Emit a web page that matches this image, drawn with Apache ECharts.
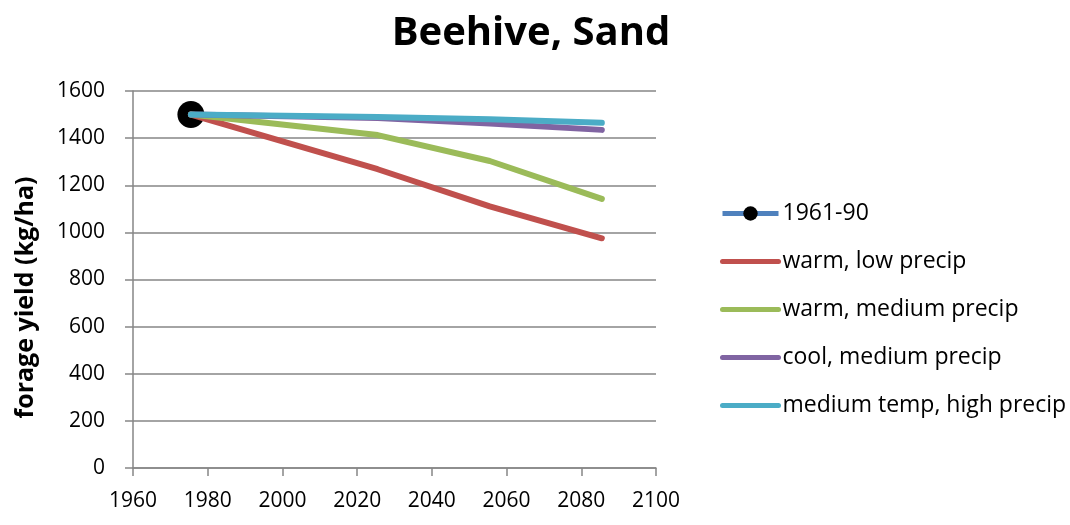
<!DOCTYPE html>
<html>
<head>
<meta charset="utf-8">
<script src="https://cdn.jsdelivr.net/npm/echarts@6/dist/echarts.min.js"></script>
<style>
  html, body { margin: 0; padding: 0; background: #fff; }
  #chart { width: 1070px; height: 525px; }
</style>
</head>
<body>
<div id="chart"></div>
<script>
// Period midpoints (years) and forage yield (kg/ha) per climate scenario
const years = [1975.5, 2025.5, 2055.5, 2085.5];
const baseline = [1500];
const warmLowPrecip = [1500, 1268, 1110, 975];
const warmMediumPrecip = [1500, 1413, 1303, 1142];
const coolMediumPrecip = [1500, 1485, 1462, 1435];
const mediumTempHighPrecip = [1500, 1490, 1480, 1465];
const seriesNames = ['1961-90', 'warm, low precip', 'warm, medium precip', 'cool, medium precip', 'medium temp, high precip'];
const seriesColors = ['#4F81BD', '#C0504D', '#9BBB59', '#8064A2', '#4BACC6'];
const xTicks = [1960, 1980, 2000, 2020, 2040, 2060, 2080, 2100];
const yTicks = [0, 200, 400, 600, 800, 1000, 1200, 1400, 1600];

const FONT = '"Open Sans", "Noto Sans", sans-serif';
const LINE_W = 6;
const pair = (vals) => vals.map((v, i) => [years[i], v]);

const scenario = (idx, vals) => ({
  name: seriesNames[idx],
  type: 'line',
  data: pair(vals),
  symbol: 'none',
  lineStyle: { color: seriesColors[idx], width: LINE_W, cap: 'round', join: 'round' },
  itemStyle: { color: seriesColors[idx] },
  z: 2
});

// Legend entries: baseline shows a line with a black dot, scenarios show only the line
const legendData = seriesNames.map((name, i) => i === 0
  ? { name: name, itemStyle: { color: '#000' }, lineStyle: { color: seriesColors[0], width: 5 } }
  : { name: name, itemStyle: { opacity: 0 }, lineStyle: { color: seriesColors[i], width: 5 } });

const chart = echarts.init(document.getElementById('chart'));
chart.setOption({
  animation: false,
  title: {
    text: 'Beehive, Sand',
    left: 526,
    textAlign: 'center',
    top: 9,
    textStyle: { fontFamily: FONT, fontWeight: 'bold', fontSize: 40, color: '#000' }
  },
  grid: { left: 133, right: 414, top: 91, bottom: 57 },
  legend: {
    orient: 'vertical',
    left: 715,
    top: 197,
    itemWidth: 56,
    itemHeight: 18,
    itemGap: 25,
    textStyle: { fontFamily: FONT, fontSize: 23, color: '#000', padding: [0, 0, 0, -1] },
    data: legendData
  },
  xAxis: {
    type: 'value',
    min: xTicks[0],
    max: xTicks[xTicks.length - 1],
    interval: 20,
    axisLine: { lineStyle: { color: '#868686', width: 1.5 } },
    axisTick: { show: true, length: 8, lineStyle: { color: '#868686', width: 1.5 } },
    axisLabel: { fontFamily: FONT, fontSize: 21, color: '#000', margin: 23, formatter: (v) => String(v) },
    splitLine: { show: false }
  },
  yAxis: {
    type: 'value',
    min: yTicks[0],
    max: yTicks[yTicks.length - 1],
    interval: 200,
    name: 'forage yield (kg/ha)',
    nameLocation: 'middle',
    nameGap: 95,
    nameTextStyle: { fontFamily: FONT, fontWeight: 'bold', fontSize: 25, color: '#000', padding: [0, 36, 0, 0] },
    axisLine: { show: true, lineStyle: { color: '#868686', width: 1.5 } },
    axisTick: { show: true, length: 8, lineStyle: { color: '#868686', width: 1.5 } },
    axisLabel: { fontFamily: FONT, fontSize: 21, color: '#000', margin: 28, formatter: (v) => String(v) },
    splitLine: { lineStyle: { color: '#868686', width: 1.5 } }
  },
  series: [
    {
      name: seriesNames[0],
      type: 'line',
      data: pair(baseline),
      symbol: 'circle',
      symbolSize: 27,
      lineStyle: { color: seriesColors[0], width: LINE_W },
      itemStyle: { color: '#000' },
      z: 1
    },
    scenario(1, warmLowPrecip),
    scenario(2, warmMediumPrecip),
    scenario(3, coolMediumPrecip),
    scenario(4, mediumTempHighPrecip)
  ]
});
</script>
</body>
</html>
